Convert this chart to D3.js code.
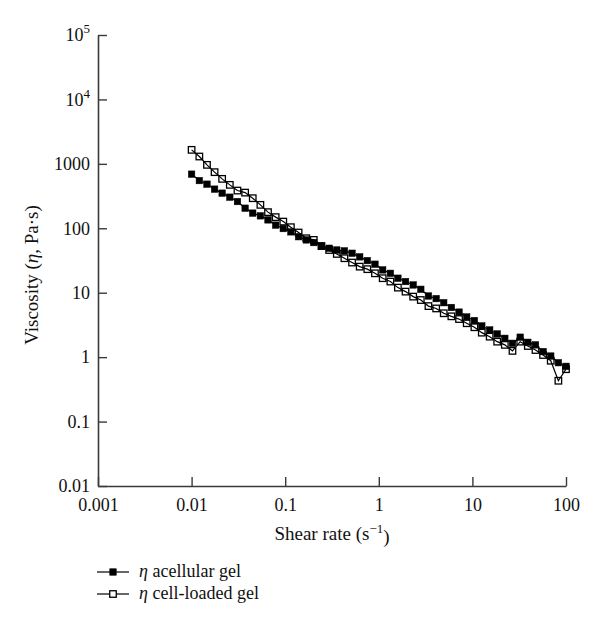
<!DOCTYPE html>
<html>
<head>
<meta charset="utf-8">
<script src="https://cdn.jsdelivr.net/npm/d3@7"></script>
<style>
  body { margin: 0; background: #fff; }
  text { font-family: "Liberation Serif", "DejaVu Serif", serif; fill: #111; }
</style>
</head>
<body>
<svg id="chart" width="600" height="626"></svg>
<script>
// shear rate (1/s), log spaced
const shearRate = [
  0.01, 0.0121, 0.0146, 0.0176, 0.0212, 0.0256, 0.0309, 0.0373, 0.045, 0.0543,
  0.0655, 0.0791, 0.0954, 0.115, 0.139, 0.168, 0.202, 0.244, 0.295, 0.356,
  0.429, 0.518, 0.625, 0.754, 0.91, 1.1, 1.33, 1.6, 1.93, 2.33,
  2.81, 3.39, 4.1, 4.94, 5.96, 7.2, 8.69, 10.5, 12.6, 15.3,
  18.4, 22.2, 26.8, 32.4, 39.1, 47.2, 56.9, 68.7, 82.9, 100
]

const acellular = [
  692, 550, 484, 405, 351, 304, 260, 205, 172, 156,
  135, 112, 99, 88, 74, 66, 60, 53, 49, 46,
  44.6, 41, 36, 31.5, 27.7, 22.6, 20, 16.8, 14.9, 13.2,
  11.3, 8.9, 8.1, 7.0, 5.9, 5.0, 4.2, 3.7, 3.05, 2.64,
  2.29, 1.96, 1.64, 2.04, 1.70, 1.55, 1.22, 1.04, 0.82, 0.72
]

const cellLoaded = [
  1650, 1300, 965, 743, 585, 472, 385, 358, 293, 231,
  178, 149, 127, 104, 86, 70, 66, 53, 46, 40,
  34.3, 29.4, 25.4, 23.2, 20, 16.8, 14.9, 12, 10.4, 8.7,
  7.7, 6.2, 5.7, 4.8, 4.3, 3.9, 3.36, 2.91, 2.4, 2.08,
  1.74, 1.55, 1.25, 1.74, 1.49, 1.29, 1.08, 0.88, 0.43, 0.65
]

const xTicks = [0.001, 0.01, 0.1, 1, 10, 100]
const xTickLabels = ['0.001', '0.01', '0.1', '1', '10', '100']
const yTicks = [0.01, 0.1, 1, 10, 100, 1000, 1e4, 1e5]
const yTickLabels = ['0.01', '0.1', '1', '10', '100', '1000', '10^4', '10^5']

const seriesNames = ['acellular gel', 'cell-loaded gel']

const margin = { top: 35, right: 34, bottom: 140, left: 98 }
const width = 600 - margin.left - margin.right
const height = 626 - margin.top - margin.bottom
const axisColor = '#3a3a3a'
const fontSize = '18px'

const svg = d3.select('#chart')
const g = svg.append('g')
  .attr('transform', 'translate(' + margin.left + ',' + margin.top + ')')

const x = d3.scaleLog().domain([0.001, 100]).range([0, width])
const y = d3.scaleLog().domain([0.01, 1e5]).range([height, 0])

function labelText(sel, labels, ticks) {
  sel.each(function (d) {
    const t = d3.select(this)
    const lab = labels[ticks.indexOf(d)]
    t.text(null)
    if (lab.indexOf('^') >= 0) {
      const parts = lab.split('^')
      t.append('tspan').text(parts[0])
      t.append('tspan').attr('dy', '-0.6em').style('font-size', '13px').text(parts[1])
    } else {
      t.text(lab)
    }
  })
}

// x axis
const gx = g.append('g')
  .attr('transform', 'translate(0,' + height + ')')
  .call(d3.axisBottom(x).tickValues(xTicks).tickSizeInner(-9).tickSizeOuter(0).tickPadding(12))
gx.select('.domain').attr('stroke', axisColor).attr('stroke-width', 1.6)
gx.selectAll('.tick line').attr('stroke', axisColor).attr('stroke-width', 1.4)
gx.selectAll('.tick text')
  .style('font-size', fontSize)
  .call(labelText, xTickLabels, xTicks)

// y axis
const gy = g.append('g')
  .call(d3.axisLeft(y).tickValues(yTicks).tickSizeInner(-9).tickSizeOuter(0).tickPadding(8))
gy.select('.domain').attr('stroke', axisColor).attr('stroke-width', 1.6)
gy.selectAll('.tick line').attr('stroke', axisColor).attr('stroke-width', 1.4)
gy.selectAll('.tick text')
  .style('font-size', fontSize)
  .call(labelText, yTickLabels, yTicks)

// axis titles
const xt = g.append('text')
  .attr('x', width / 2)
  .attr('y', height + 54)
  .attr('text-anchor', 'middle')
  .style('font-size', '19px')
xt.append('tspan').text('Shear rate (s')
xt.append('tspan').attr('dy', '-0.55em').style('font-size', '13px').text('\u22121')
xt.append('tspan').attr('dy', '0.55em').text(')')

const yt = g.append('text')
  .attr('transform', 'translate(' + (-60) + ',' + (240) + ') rotate(-90)')
  .attr('text-anchor', 'middle')
  .style('font-size', '19px')
yt.append('tspan').text('Viscosity (')
yt.append('tspan').style('font-style', 'italic').text('\u03b7')
yt.append('tspan').text(', Pa\u00b7s)')

// series
const line = d3.line()
  .x(d => x(d[0]))
  .y(d => y(d[1]))

const series = [
  { name: seriesNames[0], values: acellular, fill: '#000' },
  { name: seriesNames[1], values: cellLoaded, fill: '#fff' }
]

const ms = 6.5

series.forEach(s => {
  const pts = shearRate.map((r, i) => [r, s.values[i]])
  g.append('path')
    .datum(pts)
    .attr('fill', 'none')
    .attr('stroke', '#000')
    .attr('stroke-width', 1.2)
    .attr('d', line)
  g.selectAll(null)
    .data(pts)
    .enter().append('rect')
    .attr('x', d => x(d[0]) - ms / 2)
    .attr('y', d => y(d[1]) - ms / 2)
    .attr('width', ms)
    .attr('height', ms)
    .attr('fill', s.fill)
    .attr('fill-opacity', s.fill === '#fff' ? 0 : 1)
    .attr('stroke', '#000')
    .attr('stroke-width', s.fill === '#fff' ? 1.3 : 0.5)
})

// legend
const legend = svg.append('g').attr('transform', 'translate(97,572)')
series.forEach((s, i) => {
  const row = legend.append('g').attr('transform', 'translate(0,' + (i * 22) + ')')
  row.append('line')
    .attr('x1', 0).attr('x2', 32)
    .attr('stroke', '#000').attr('stroke-width', 1.2)
  row.append('rect')
    .attr('x', 16 - ms / 2).attr('y', -ms / 2)
    .attr('width', ms).attr('height', ms)
    .attr('fill', s.fill)
    .attr('stroke', '#000')
    .attr('stroke-width', s.fill === '#fff' ? 1.3 : 0.5)
  const t = row.append('text')
    .attr('x', 42)
    .attr('y', 5)
    .style('font-size', fontSize)
  t.append('tspan').style('font-style', 'italic').text('\u03b7')
  t.append('tspan').text(' ' + s.name)
})
</script>
</body>
</html>
